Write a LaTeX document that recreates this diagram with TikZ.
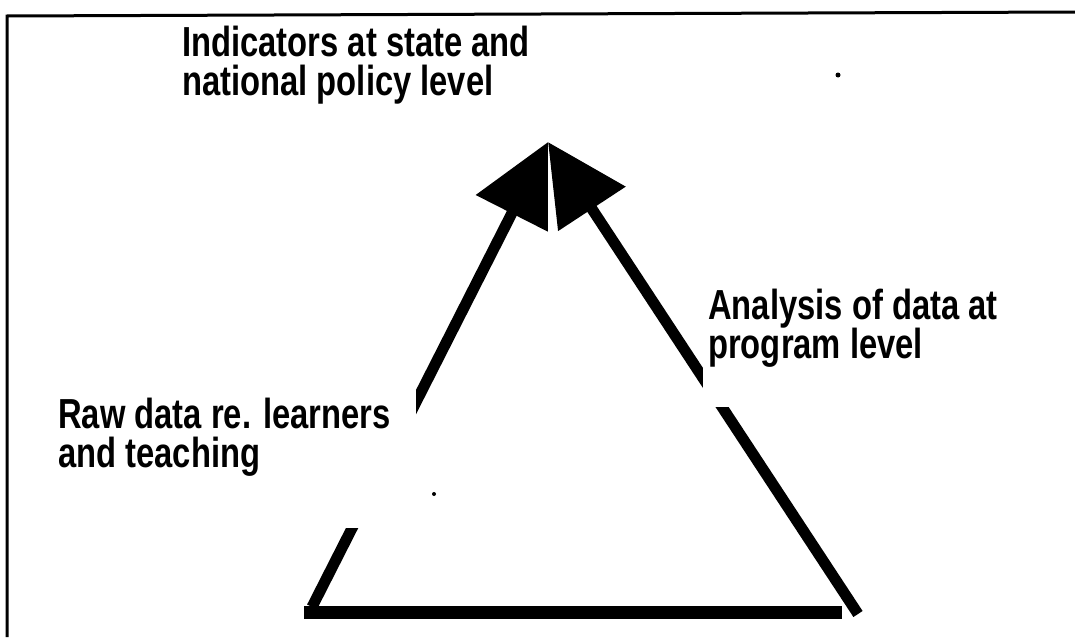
\documentclass[tikz,border=0pt]{standalone}
\usepackage{fontspec}
\setmainfont{Liberation Sans}
\usetikzlibrary{arrows.meta}
\newcommand{\narrow}[1]{\scalebox{0.78}[1]{#1}}
\begin{document}
\begin{tikzpicture}[x=1pt,y=-1pt,
  leg/.style={line width=11pt, -{Triangle[length=80pt,width=78pt]}},
  basebar/.style={line width=13pt},
  frame/.style={line width=3pt, line join=miter},
  panel/.style={fill=white, draw=none, inner sep=0pt, anchor=north west},
  label/.style={font=\fontsize{42}{42}\selectfont\bfseries, inner sep=0pt, anchor=base west},
  speck/.style={fill=black}]
\useasboundingbox (0,0) rectangle (1075,637);
% frame
\coordinate (fb) at (7,637);
\coordinate (fc) at (7,16);
\coordinate (fr) at (1075,12);
\draw[frame] (fb) -- (fc) -- (fr);
% triangle
\coordinate (apex) at (548,142);
\coordinate (bl) at (312,607);
\coordinate (br) at (858,614);
\coordinate (barL) at (304,612);
\coordinate (barR) at (842,612);
\draw[leg] (bl) -- (apex);
\draw[leg] (br) -- (apex);
\draw[basebar] (barL) -- (barR);
% panels
\node[panel, minimum width=350pt, minimum height=130pt] (topbox) at (180,18) {};
\node[panel, minimum width=386pt, minimum height=138pt] (rawbox) at (30,390) {};
\node[panel, minimum width=309pt, minimum height=124pt] (anabox) at (703,283) {};
% texts
\node[label] (ind1) at (182,56) {\narrow{Indicators at state and}};
\node[label] (ind2) at (182,95) {\narrow{national policy level}};
\node[label] (raw1) at (58,428) {\narrow{Raw data re. learners}};
\node[label] (raw2) at (58,467) {\narrow{and teaching}};
\node[label] (ana1) at (708,319) {\narrow{Analysis of data at}};
\node[label] (ana2) at (708,358) {\narrow{program level}};
% stray dots
\fill[speck] (838,75) circle (2.5pt);
\fill[speck] (434,494) circle (2pt);
\end{tikzpicture}
\end{document}
